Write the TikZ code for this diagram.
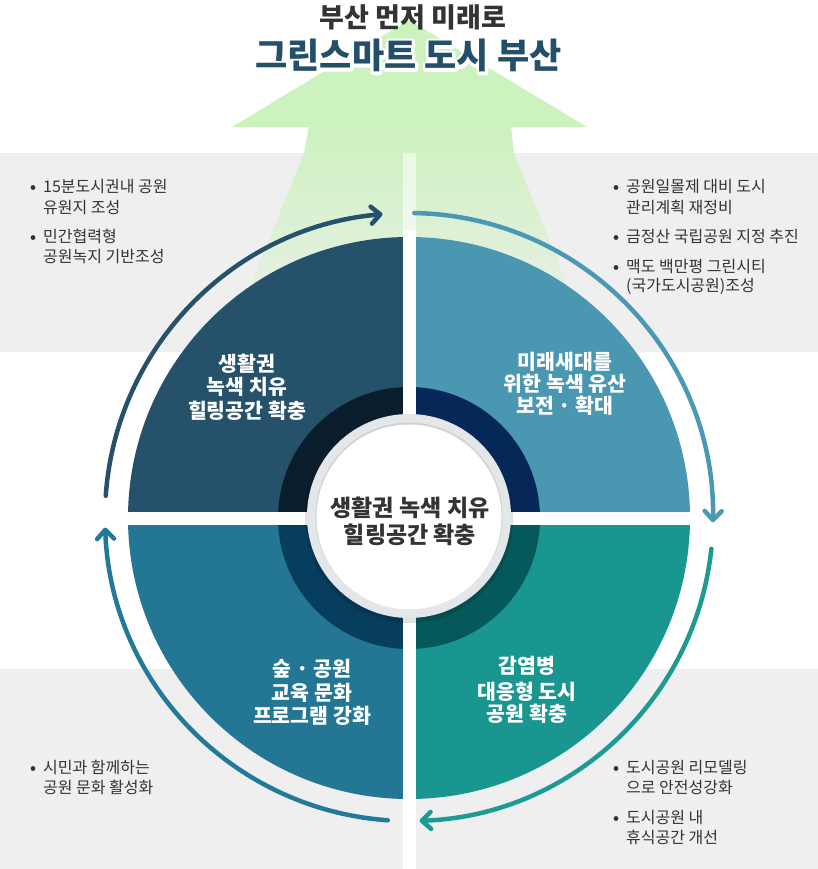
\documentclass[tikz,border=0pt]{standalone}
\usepackage{fontspec}
\setmainfont{Noto Sans CJK KR}
\newfontfamily\krblack{Noto Sans CJK KR Black}
\usetikzlibrary{arrows.meta}
\definecolor{panel}{HTML}{EFEFEF}
\definecolor{qTL}{HTML}{25516A}
\definecolor{rTL}{HTML}{0A1D2D}
\definecolor{qTR}{HTML}{4A97B2}
\definecolor{rTR}{HTML}{062859}
\definecolor{qBL}{HTML}{247794}
\definecolor{rBL}{HTML}{073E5D}
\definecolor{qBR}{HTML}{1A9691}
\definecolor{rBR}{HTML}{06595A}
\definecolor{aTL}{HTML}{25516A}
\definecolor{aTR}{HTML}{4A99B4}
\definecolor{aBR}{HTML}{1E9A95}
\definecolor{aBL}{HTML}{23799A}
\definecolor{lgreen}{HTML}{CCF2BE}
\definecolor{ttlblue}{HTML}{234F68}
\definecolor{txtgray}{HTML}{333333}
\definecolor{ringgray}{HTML}{E3E7E9}
\newcommand{\halotext}[1]{\special{pdf:literal 1 Tr 6 w 1 j}#1\special{pdf:literal 0 Tr}}
\tikzset{
  btxt/.style={anchor=base west, inner sep=0pt, text=txtgray, font=\fontsize{16}{18}\selectfont},
  bdot/.style={anchor=base west, inner sep=0pt, text=txtgray, font=\bfseries\fontsize{15}{18}\selectfont},
  qlab/.style={anchor=base, inner sep=0pt, text=white, font=\krblack\fontsize{20.5}{22}\selectfont},
  ctxt/.style={anchor=base, inner sep=0pt, text=txtgray, font=\krblack\fontsize{23}{24}\selectfont},
  arcline/.style={line width=4.5pt, line cap=round, -{Straight Barb[length=9pt,width=17pt,round]}},
}
\begin{document}
\begin{tikzpicture}[x=1pt,y=-1pt]
\useasboundingbox (0,0) rectangle (818,869);
\fill[white] (0,0) rectangle (818,869);
% gray panels
\fill[panel] (0,153) rectangle (403,352);
\fill[panel] (416,153) rectangle (818,352);
\fill[panel] (0,669) rectangle (403,869);
\fill[panel] (416,669) rectangle (818,869);
% green arrow
\fill[lgreen] (409,20) -- (587,127) -- (232,127) -- cycle;
\shade[top color=lgreen, bottom color=panel]
  (309,126) -- (511,126) -- (514,153) .. controls (530,195) and (555,250) .. (590,345)
  -- (228,345) .. controls (263,250) and (288,195) .. (304,153) -- cycle;
\fill[white, opacity=0.55] (403,153) rectangle (416,352);
\fill[white] (403,352) rectangle (416,869);
% quadrants
\coordinate (c) at (409,518);
\begin{scope}
  \clip (0,0) rectangle (409,518);
  \fill[qTL] (c) circle[radius=281];
  \fill[rTL] (c) circle[radius=131];
\end{scope}
\begin{scope}
  \clip (409,0) rectangle (818,518);
  \fill[qTR] (c) circle[radius=281];
  \fill[rTR] (c) circle[radius=131];
\end{scope}
\begin{scope}
  \clip (0,518) rectangle (409,869);
  \fill[qBL] (c) circle[radius=281];
  \fill[rBL] (c) circle[radius=131];
\end{scope}
\begin{scope}
  \clip (409,518) rectangle (818,869);
  \fill[qBR] (c) circle[radius=281];
  \fill[rBR] (c) circle[radius=131];
\end{scope}
\fill[white] (403,230) rectangle (416,810);
\fill[white] (120,512) rectangle (700,525);
% arcs
\coordinate (ac) at (409,517);
\draw[arcline, aTL] (ac) ++(-176:304) arc[start angle=-176, end angle=-95, radius=304];
\draw[arcline, aTR] (ac) ++(-89:304) arc[start angle=-89, end angle=1, radius=304];
\draw[arcline, aBR] (ac) ++(6:304) arc[start angle=6, end angle=88, radius=304];
\draw[arcline, aBL] (ac) ++(94:304) arc[start angle=94, end angle=178, radius=304];
% center circle
\coordinate (cc) at (409,516);
\fill[black, opacity=0.12] (409,519) circle[radius=104];
\fill[ringgray] (cc) circle[radius=102];
\fill[black!18] (cc) circle[radius=93.5];
\fill[white] (409,517) circle[radius=92.5];
% title
\node[anchor=base, inner sep=0pt, text=txtgray, font=\krblack\fontsize{27}{28}\selectfont] (t1) at (413,28) {부산 먼저 미래로};
\node[anchor=base, inner sep=0pt, text=white, font=\krblack\fontsize{35}{36}\selectfont] (halo) at (408.5,69) {\halotext{그린스마트 도시 부산}};
\node[anchor=base, inner sep=0pt, text=ttlblue, font=\krblack\fontsize{35}{36}\selectfont] (t2) at (408.5,69) {그린스마트 도시 부산};
% quadrant labels
\node[qlab] (tl1) at (247,371) {생활권};
\node[qlab] (tl2) at (247,394.5) {녹색 치유};
\node[qlab] (tl3) at (247,418) {힐링공간 확충};
\node[qlab] (tr1) at (565,369) {미래새대를};
\node[qlab] (tr2) at (565,391) {위한 녹색 유산};
\node[qlab] (tr3) at (565,413) {보전 · 확대};
\node[qlab] (bl1) at (312,676) {숲 · 공원};
\node[qlab] (bl2) at (312,700) {교육 문화};
\node[qlab] (bl3) at (312,723) {프로그램 강화};
\node[qlab] (br1) at (527,673) {감염병};
\node[qlab] (br2) at (527,699) {대응형 도시};
\node[qlab] (br3) at (527,721) {공원 확충};
% center text
\node[ctxt] (c1) at (410,516.5) {생활권 녹색 치유};
\node[ctxt] (c2) at (410,543.5) {힐링공간 확충};
% bullets TL
\node[bdot] (d1) at (30,193) {•};
\node[btxt] (s1) at (43,193) {15분도시권내 공원};
\node[btxt] (s2) at (43,213) {유원지 조성};
\node[bdot] (d2) at (30,242) {•};
\node[btxt] (s3) at (43,242) {민간협력형};
\node[btxt] (s4) at (43,262) {공원녹지 기반조성};
% bullets TR
\node[bdot] (d3) at (613,193) {•};
\node[btxt] (s5) at (626,193) {공원일몰제 대비 도시};
\node[btxt] (s6) at (626,213) {관리계획 재정비};
\node[bdot] (d4) at (613,242) {•};
\node[btxt] (s7) at (626,242) {금정산 국립공원 지정 추진};
\node[bdot] (d5) at (613,272) {•};
\node[btxt] (s8) at (626,272) {맥도 백만평 그린시티};
\node[btxt] (s9) at (626,291) {(국가도시공원)조성};
% bullets BL
\node[bdot] (d6) at (30,773) {•};
\node[btxt] (s10) at (43,773) {시민과 함께하는};
\node[btxt] (s11) at (43,793) {공원 문화 활성화};
% bullets BR
\node[bdot] (d7) at (613,773) {•};
\node[btxt] (s12) at (626,773) {도시공원 리모델링};
\node[btxt] (s13) at (626,793) {으로 안전성강화};
\node[bdot] (d8) at (613,823) {•};
\node[btxt] (s14) at (626,823) {도시공원 내};
\node[btxt] (s15) at (626,843) {휴식공간 개선};
\end{tikzpicture}
\end{document}
